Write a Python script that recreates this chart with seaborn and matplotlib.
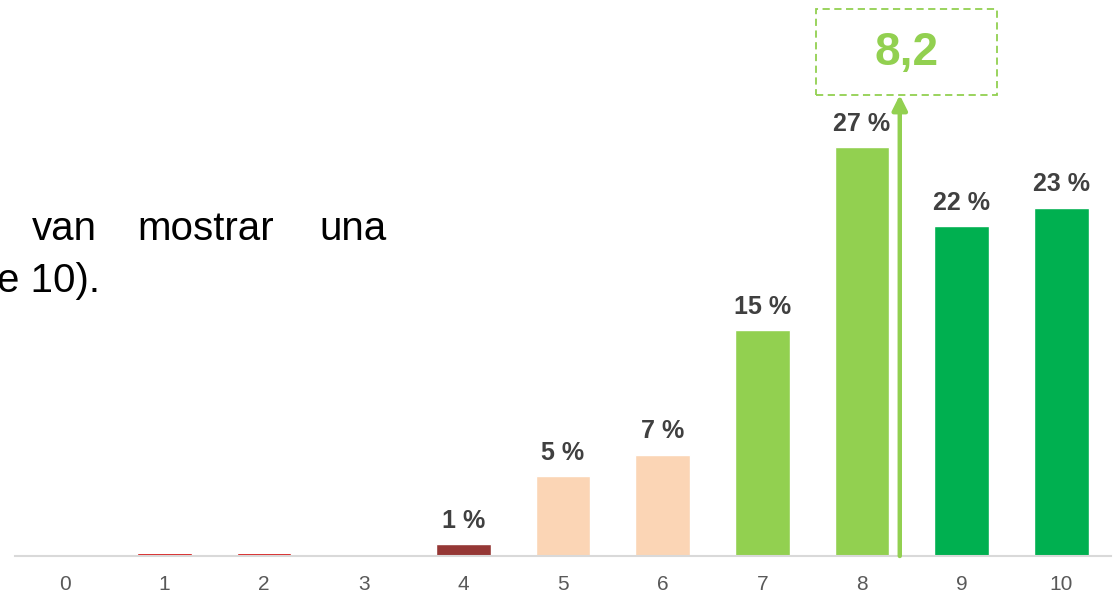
#!/usr/bin/env python
# coding: utf-8
#
import seaborn as sb
from matplotlib import pyplot as plt
from matplotlib.patches import Rectangle
import numpy as np

# data
scores = ['0', '1', '2', '3', '4', '5', '6', '7', '8', '9', '10']
pct = [0, 0.22, 0.22, 0, 0.8, 5.3, 6.7, 14.9, 27, 21.8, 23]
pct_labels = ['', '', '', '', '1 %', '5 %', '7 %', '15 %', '27 %', '22 %', '23 %']
bar_colors = ['#D00000', '#D00000', '#D00000', '#D00000', '#953735', '#FBD5B5',
              '#FBD5B5', '#92D050', '#92D050', '#00B050', '#00B050']
mean_score = 8.38
mean_label = '8,2'

sb.set_style('white')
plt.rcParams['font.family'] = ['Liberation Sans', 'DejaVu Sans']
#
W, H = 1113, 594
fig = plt.figure(figsize=(W / 100, H / 100), dpi=100)
ax = fig.add_axes([15 / W, 38 / H, 1096 / W, 556 / H])
sb.barplot(x=scores, y=pct, hue=scores, palette=bar_colors, width=0.55,
           legend=False, saturation=1, ax=ax)
ax.set_xlim(-0.5, 10.5)
ax.set_ylim(0, 556 / 409 * 27)
for s in ['top', 'left', 'right']:
    ax.spines[s].set_visible(False)
ax.spines['bottom'].set_color('#D9D9D9')
ax.spines['bottom'].set_linewidth(1.5)
ax.set_yticks([])
ax.tick_params(axis='x', length=0, pad=14, labelsize=15, labelcolor='#595959')
ax.set_xlabel('')
ax.set_ylabel('')

# value labels
for i, (v, lab) in enumerate(zip(pct, pct_labels)):
    if lab:
        ax.annotate(lab, xy=(i, v), xytext=(0, 8), textcoords='offset points',
                    ha='center', va='bottom', fontsize=18, fontweight='bold',
                    color='#404040')

# mean arrow + box
box_bottom = (556 - 95) / 409 * 27
ax.annotate('', xy=(mean_score, box_bottom), xytext=(mean_score, 0),
            arrowprops=dict(arrowstyle='-|>', lw=3.2, color='#92D050',
                            mutation_scale=22, shrinkA=0, shrinkB=0),
            annotation_clip=False)
fig.patches.append(Rectangle((816 / W, 1 - 95 / H), 181 / W, 86 / H,
                             transform=fig.transFigure, fill=False,
                             ls=(0, (4, 2.5)), ec='#92D050', lw=1.3))
fig.text(907 / W, 1 - 53 / H, mean_label, ha='center', va='center',
         fontsize=33, fontweight='bold', color='#92D050')

# cropped text on the left
txt = dict(fontsize=29, color='black', va='baseline')
fig.text(32 / W, 1 - 240 / H, 'van', ha='left', **txt)
fig.text(137 / W, 1 - 240 / H, 'mostrar', ha='left', **txt)
fig.text(387 / W, 1 - 240 / H, 'una', ha='right', **txt)
fig.text(100 / W, 1 - 292 / H, 'e 10).', ha='right', **txt)
#
fig.savefig('out.png', dpi=100)
